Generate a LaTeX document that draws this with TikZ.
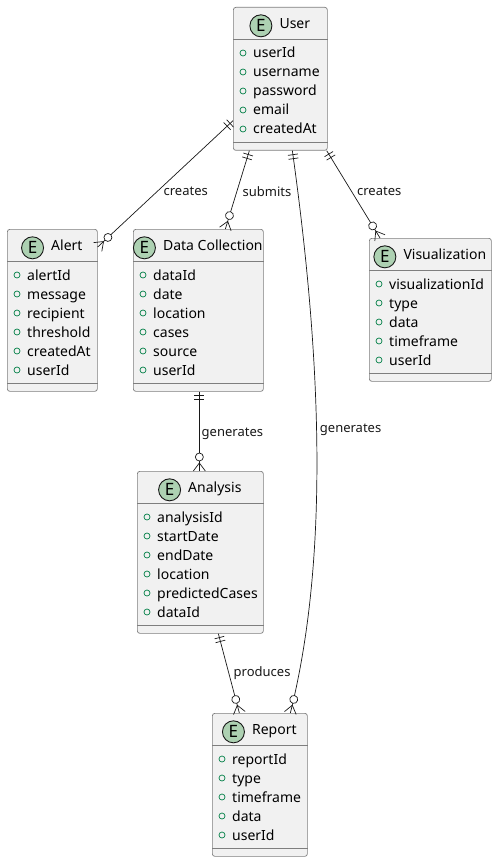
\documentclass[tikz,border=0pt]{standalone}
\usepackage{fontspec}
\setmainfont{Noto Sans}
\usetikzlibrary{positioning, decorations.markings}

\definecolor{entfill}{HTML}{F1F1F1}
\definecolor{entborder}{HTML}{181818}
\definecolor{entline}{HTML}{7E7E7E}
\definecolor{entgreen}{HTML}{ADD1B2}
\definecolor{attrgreen}{HTML}{038048}

\begin{document}
\begin{tikzpicture}[x=1pt, y=-1pt, % one unit is one pixel, y runs downwards
	entbox/.style={draw=entline, line width=0.7pt, fill=entfill, rounded corners=2.5pt, inner sep=0pt},
	entsep/.style={draw=entline, line width=0.7pt},
	enttitle/.style={anchor=base, inner sep=0pt, font=\fontsize{14}{16}\selectfont},
	entcirc/.style={circle, draw=entborder, line width=0.9pt, fill=entgreen, minimum size=22pt, inner sep=0pt, font=\fontsize{17}{18}\selectfont\bfseries},
	attr/.style={anchor=base west, inner sep=0pt, font=\fontsize{14}{16}\selectfont},
	attrmark/.style={draw=attrgreen, line width=0.7pt},
	rel/.style={color=entborder, line width=0.7pt},
	rellabel/.style={anchor=west, inner sep=0pt, font=\fontsize{13}{15}\selectfont},
	onlyone/.style={postaction={decorate, decoration={markings, mark=at position 0 with {
		\draw (4pt,-5pt) -- (4pt,5pt) (8pt,-5pt) -- (8pt,5pt);}}}},
	zeromany/.style={postaction={decorate, decoration={markings, mark=at position 1 with {
		\draw (-8pt,0pt) -- (0pt,6pt) (-8pt,0pt) -- (0pt,-6pt);
		\draw[fill=white] (-14pt,0pt) circle (4pt);}}}},
	]
	
	\useasboundingbox (0,0) rectangle (496,861);
	
	% Entity box: name, left, top, width, number of rows, title, attributes
	\def\entity#1#2#3#4#5#6#7{
		\pgfmathsetmacro\entheight{48+19*#5}
		\node[entbox, anchor=north west, minimum width=#4pt, minimum height=\entheight pt] (#1) at (#2,#3) {};
		\draw[entsep] ([yshift=-32pt]#1.north west) -- ([yshift=-32pt]#1.north east);
		\draw[entsep] ([yshift=8pt]#1.south west) -- ([yshift=8pt]#1.south east);
		\node[enttitle] (#1-title) at ([xshift=14.5pt, yshift=-21.5pt]#1.north) {#6};
		\node[entcirc, left=7pt of #1-title.mid west] (#1-e) {E};
		\foreach \a [count=\i] in {#7} {
			\pgfmathsetmacro\rowy{-46-19*(\i-1)}
			\coordinate (#1-row\i) at ([yshift=\rowy pt]#1.north west);
			\node[attr] (#1-attr\i) at ([xshift=20pt, yshift=-5pt]#1-row\i) {\a};
			\draw[attrmark] ([xshift=10pt]#1-row\i) circle (3pt);
		}
	}
	
	% Entities
	\entity{user}{233}{7}{94}{5}{User}{userId, username, password, email, createdAt}
	\entity{alert}{7}{229}{90}{6}{Alert}{alertId, message, recipient, threshold, createdAt, userId}
	\entity{data}{133}{229}{130}{6}{Data Collection}{dataId, date, location, cases, source, userId}
	\entity{vis}{369}{238}{122}{5}{Visualization}{visualizationId, type, data, timeframe, userId}
	\entity{analysis}{137}{471}{126}{6}{Analysis}{analysisId, startDate, endDate, location, predictedCases, dataId}
	\entity{report}{212}{713}{95}{5}{Report}{reportId, type, timeframe, data, userId}
	
	% Relations
	\draw[rel, onlyone, zeromany] ([yshift=30pt]user.south west) -- ([yshift=-18pt]alert.north east)
		node[rellabel, pos=0.56, xshift=6pt] (lbl-creates-alert) {creates};
	\draw[rel, onlyone, zeromany] ([xshift=-31pt]user.south) -- ([xshift=27pt]data.north)
		node[rellabel, pos=0.52, xshift=5.5pt] (lbl-submits) {submits};
	\draw[rel, onlyone, zeromany] ([xshift=-1pt]user.south east) -- ([xshift=11pt]vis.north west)
		node[rellabel, pos=0.47, xshift=5pt] (lbl-creates-vis) {creates};
	\draw[rel, onlyone, zeromany] ([xshift=12pt]user.south) .. controls +(28,200) and +(40,-160) .. ([xshift=30.5pt]report.north)
		node[rellabel, pos=0.47, xshift=3pt] (lbl-generates-report) {generates};
	\draw[rel, onlyone, zeromany] ([xshift=1pt]data.south) -- ([xshift=-1pt]analysis.north)
		node[rellabel, pos=0.525, xshift=2pt] (lbl-generates-analysis) {generates};
	\draw[rel, onlyone, zeromany] ([xshift=18pt]analysis.south) -- ([xshift=-20.5pt]report.north)
		node[rellabel, pos=0.5, xshift=4.5pt] (lbl-produces) {produces};
	
\end{tikzpicture}
\end{document}
